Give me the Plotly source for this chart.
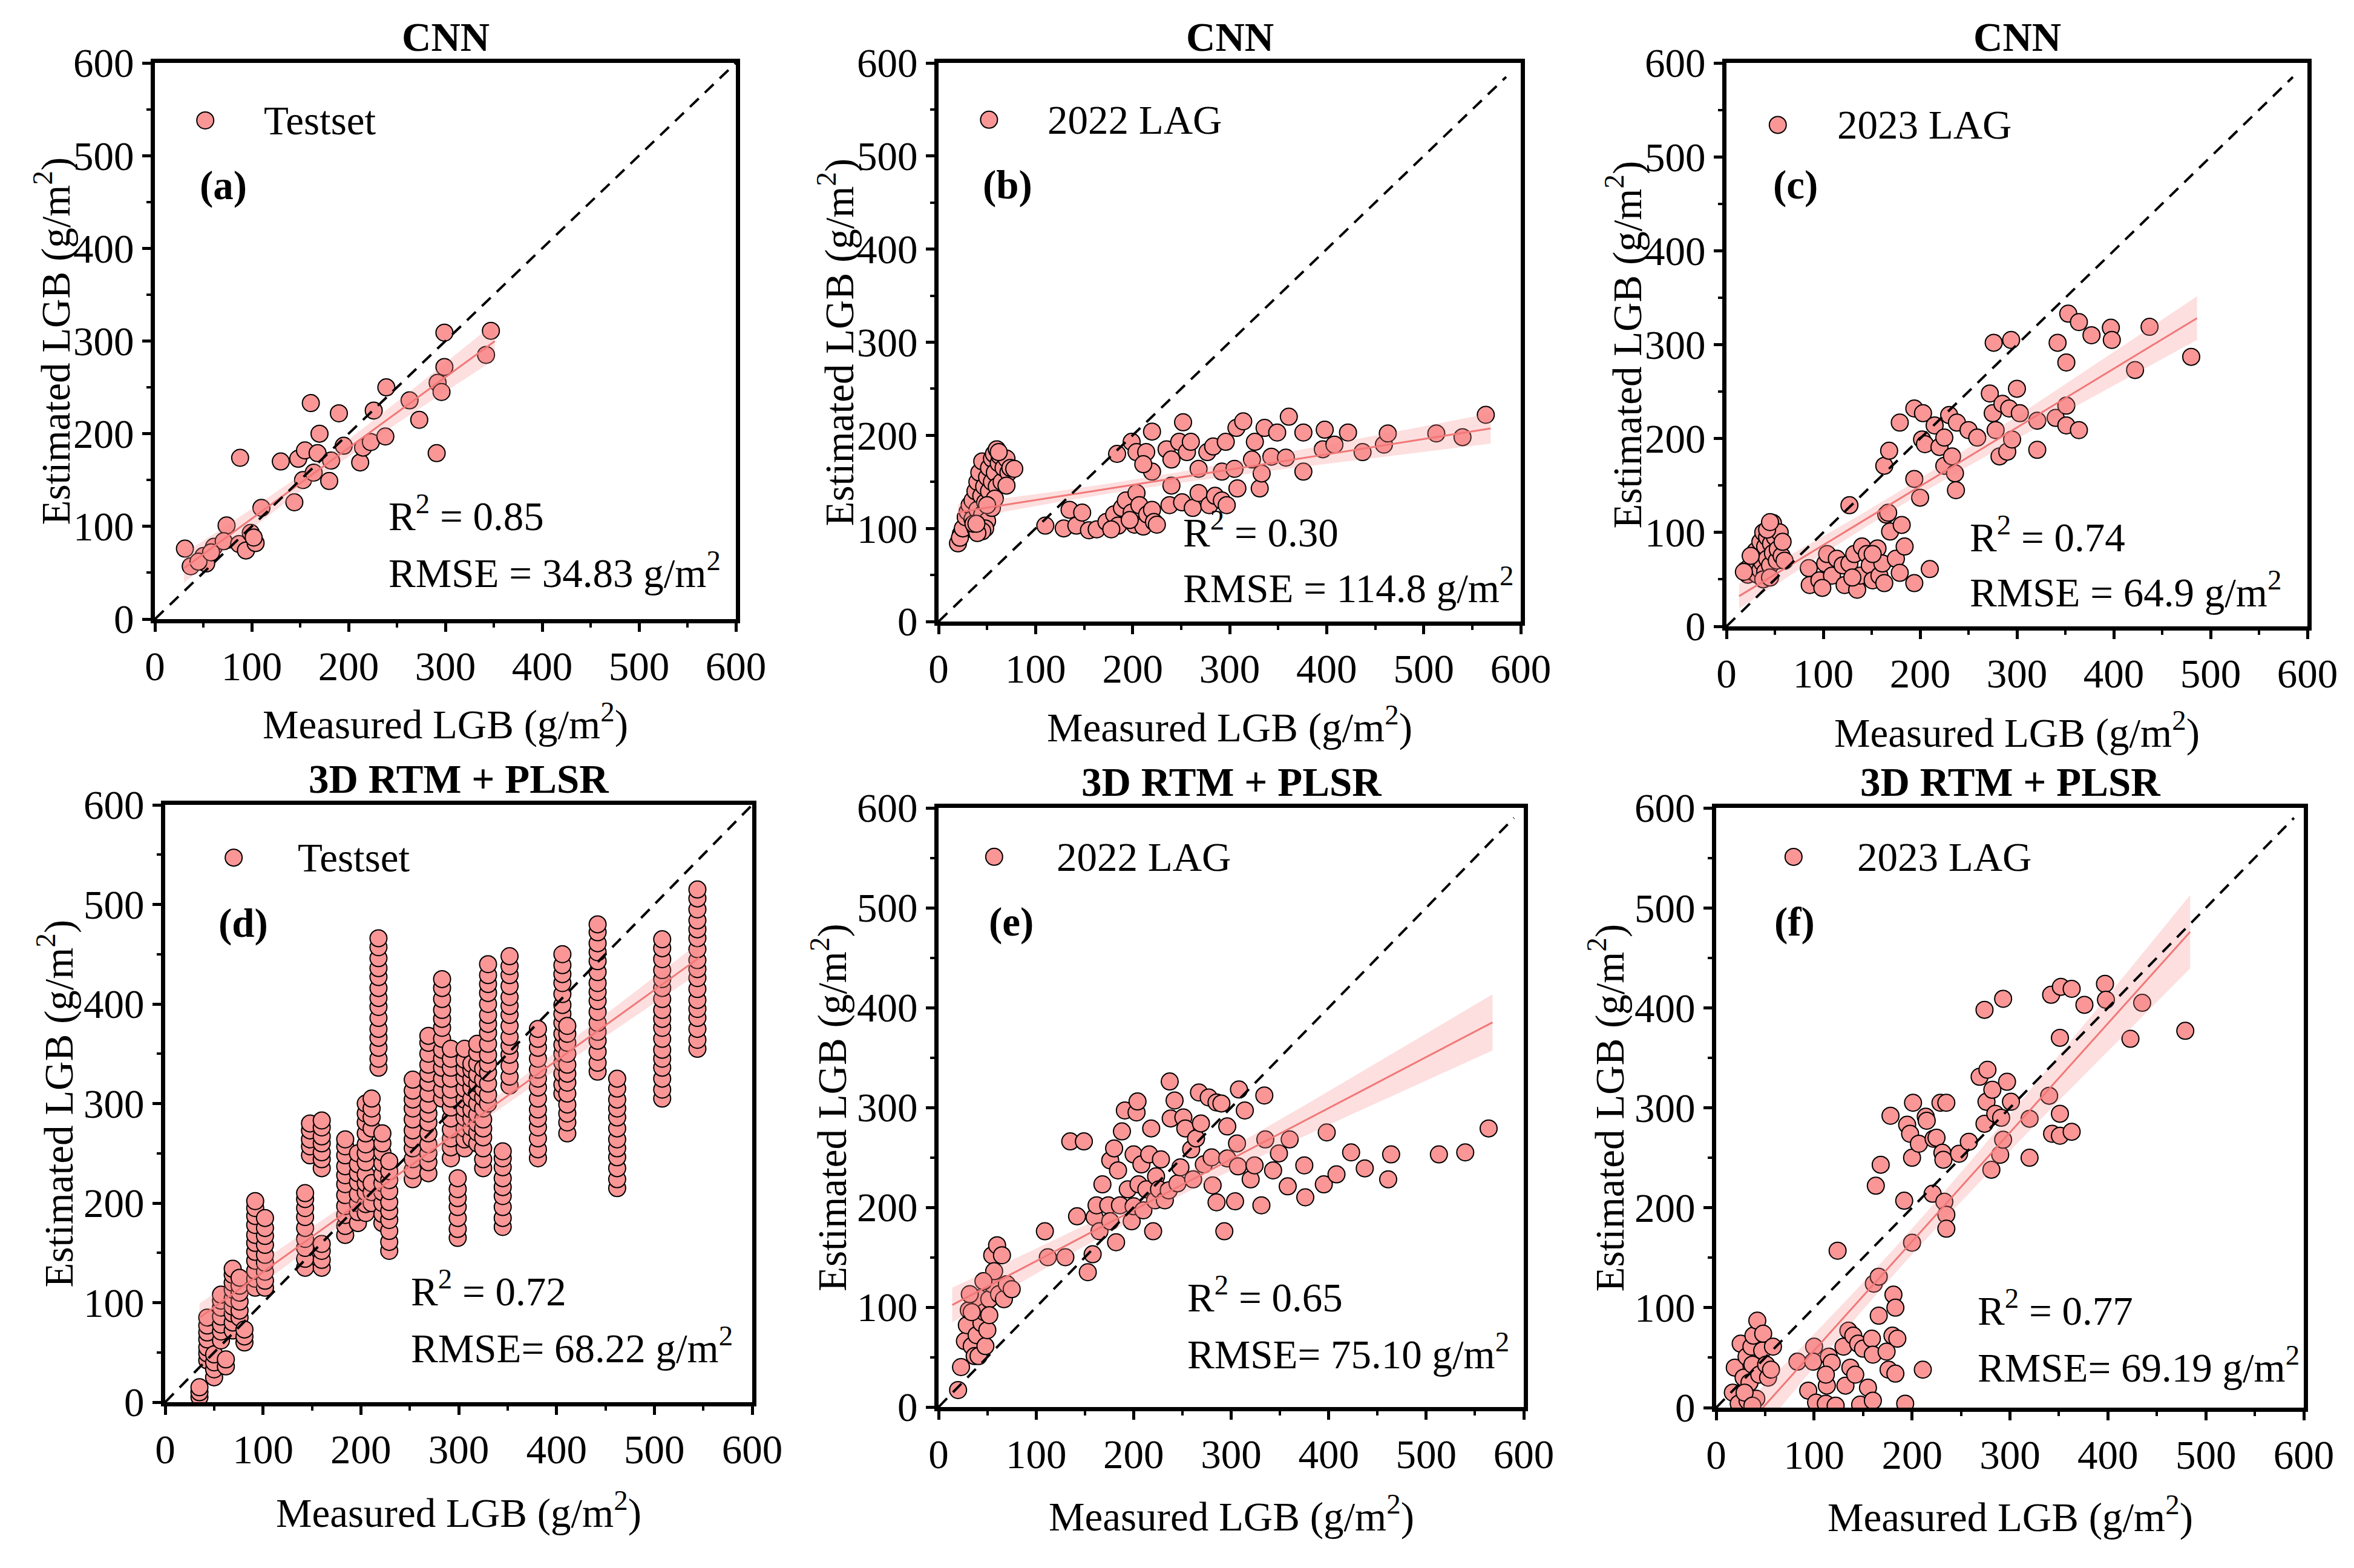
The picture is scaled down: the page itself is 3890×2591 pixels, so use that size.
import numpy as np
import plotly.graph_objects as go

FONT = "Liberation Serif, Times New Roman, serif"
FS = 67
FILL = "rgb(250,150,150)"
FITLINE = "rgb(242,120,120)"
BAND = "rgba(248,140,140,0.28)"

# ---------------- data ----------------
# (a) CNN - Testset
a_meas = [31, 37, 50, 53, 61, 74, 71, 87, 88, 94, 99, 104, 110, 130, 144, 148, 153, 155, 161, 164,
          168, 170, 180, 182, 190, 195, 212, 215, 223, 226, 238, 239, 263, 273, 291, 292, 296, 299, 299, 342,
          347, 45, 58, 102]
a_est = [76, 57, 68, 60, 78, 101, 84, 81, 174, 74, 93, 82, 120, 170, 126, 173, 150, 182, 233, 158,
         179, 200, 149, 171, 222, 187, 169, 185, 191, 225, 197, 250, 236, 215, 179, 255, 245, 272, 309, 285,
         311, 62, 72, 88]

# (b) CNN - 2022 LAG
b_meas = [20, 23, 26, 22, 25, 28, 30, 32, 35, 35, 38, 38, 40, 40, 42, 42, 44, 45, 45, 47,
          48, 50, 50, 52, 52, 55, 55, 57, 58, 60, 60, 62, 63, 65, 67, 70, 72, 74, 48, 45,
          40, 36, 55, 58, 50, 39, 78, 70, 62,
          110, 129, 135, 142, 148, 155, 163, 173, 181, 185, 189, 193, 199, 202, 204, 207, 211, 215, 220, 222,
          225, 178, 197,
          184, 199, 204, 214, 220, 220, 211, 235, 240, 240, 248, 252, 256, 260, 268, 277, 283, 292, 296, 305,
          307, 314, 308, 238, 251, 262, 268, 279, 285, 292, 297, 323, 326, 331, 333, 336, 343, 349, 358, 361,
          376, 376, 396, 398, 408, 422, 437, 459, 463, 513, 540, 564]
b_est = [84, 94, 99, 90, 100, 112, 118, 125, 130, 110, 140, 100, 150, 120, 105, 160, 135, 172, 115, 145,
         128, 155, 108, 165, 140, 175, 150, 180, 160, 185, 145, 170, 178, 150, 165, 175, 160, 165, 100, 97,
         95, 105, 122, 132, 125, 105, 164, 146, 182,
         103, 100, 120, 103, 117, 98, 99, 107, 115, 103, 122, 130, 117, 104, 138, 125, 102, 115, 120, 107,
         104, 99, 109,
         180, 193, 182, 182, 204, 161, 169, 185, 174, 146, 193, 214, 182, 193, 164, 182, 188, 161, 193, 164,
         208, 215, 143, 125, 128, 122, 138, 125, 135, 130, 125, 174, 193, 143, 159, 208, 177, 203, 176, 220,
         203, 161, 185, 206, 190, 203, 182, 190, 202, 202, 198, 222]

# (c) CNN - 2023 LAG
c_meas = [20, 22, 25, 27, 28, 30, 30, 32, 33, 35, 35, 37, 38, 40, 40, 42, 42, 44, 45, 46,
          48, 48, 50, 52, 53, 55, 57, 58, 60, 25, 18, 38, 45, 42, 45,
          85, 86, 96, 102, 104, 109, 114, 120, 122, 127, 132, 135, 138, 140, 145, 148, 151, 156, 158, 161,
          163, 165, 169, 175, 179, 181, 184, 194, 210, 167, 151, 130, 99,
          127, 163, 168, 179, 194, 194, 200, 202, 203, 205, 215, 220, 225, 225, 230, 233, 236, 237, 238, 250,
          259, 272, 275, 276, 278, 282, 285, 290, 292, 294, 295, 300, 303, 321, 321, 340, 342, 351, 351, 351,
          353, 364, 364, 377, 397, 398, 422, 437, 480]
c_est = [60, 55, 65, 58, 70, 62, 80, 55, 75, 90, 60, 68, 100, 85, 58, 95, 72, 105, 65, 88,
         110, 78, 95, 70, 82, 100, 75, 90, 70, 75, 58, 50, 52, 103, 111,
         62, 44, 49, 67, 77, 54, 72, 65, 44, 67, 77, 39, 54, 85, 77, 65, 49, 83, 54, 67,
         46, 119, 101, 72, 57, 108, 85, 46, 61, 121, 77, 52, 41,
         129, 171, 187, 217, 157, 232, 137, 199, 227, 194, 214, 191, 201, 171, 225, 181, 163, 145, 217, 209,
         201, 248, 227, 302, 209, 181, 237, 186, 232, 305, 199, 253, 227, 188, 219, 222, 302, 214, 235, 281,
         333, 209, 324, 310, 318, 305, 273, 319, 287]

# (d) 3D RTM + PLSR - Testset: each measured value has a column of estimates
d_stack_meas = [35, 43, 50, 57, 62, 69, 76, 81, 92, 102,
                143, 148, 160, 184, 197, 205, 211, 218, 222, 229,
                253, 269, 283, 292, 299, 306, 313, 319, 325, 330,
                345, 352, 381, 406, 411, 442, 462, 508, 544]
d_stack_est = [
    [5, 10, 15],
    [42, 49, 55, 63, 70, 77, 85],
    [25, 33, 40, 48],
    [62, 71, 78, 86, 95, 102, 108],
    [36, 43],
    [72, 80, 89, 96, 104, 113, 120, 128, 134],
    [85, 92, 101, 110, 117, 125],
    [60, 66, 73],
    [115, 124, 132, 142, 151, 160, 168, 178, 187, 195, 202],
    [115, 122, 131, 140, 148, 158, 167, 175, 185],
    [135, 144, 155, 164, 175, 186, 195, 204, 210],
    [248, 257, 264, 273, 280],
    [135, 143, 152, 159, 235, 244, 251, 260, 267, 276, 283],
    [168, 177, 188, 197, 208, 219, 228, 237, 248, 257, 264],
    [180, 191, 200, 209, 221, 230, 239, 250],
    [190, 199, 211, 220, 229, 241, 250, 259, 270, 281, 290, 300],
    [200, 211, 220, 275, 286, 295, 305],
    [336, 345, 356, 366, 375, 386, 397, 406, 416, 427, 436, 446, 457, 466],
    [180, 189, 200, 211, 220, 229, 240, 251, 260, 270],
    [152, 161, 172, 183, 192, 201, 212, 223, 232, 242],
    [224, 233, 244, 255, 264, 273, 284, 295, 304, 313, 324],
    [230, 241, 250, 259, 270, 281, 290, 299, 310, 321, 330, 339, 350, 361, 368],
    [305, 314, 325, 336, 345, 354, 365, 376, 385, 394, 405, 416, 425],
    [245, 256, 265, 274, 285, 296, 305, 314, 325, 336, 345, 355],
    [165, 174, 185, 196, 205, 214, 225],
    [255, 264, 275, 286, 295, 304, 315, 326, 335, 344, 355],
    [265, 276, 285, 294, 305, 316, 325, 334, 340],
    [260, 271, 280, 289, 300, 311, 320, 329, 340, 351, 360],
    [235, 244, 255, 266, 275, 284, 295, 306, 315, 324, 335],
    [300, 309, 320, 331, 340, 349, 360, 371, 380, 389, 400, 411, 420, 429, 440],
    [176, 185, 196, 207, 216, 225, 236, 245, 252],
    [318, 327, 338, 349, 358, 367, 378, 389, 398, 407, 418, 429, 438, 448],
    [245, 254, 265, 276, 285, 294, 305, 316, 325, 334, 345, 356, 365, 375],
    [310, 319, 330, 341, 350, 359, 370, 381, 390, 399, 410, 421, 430, 439, 450],
    [270, 281, 290, 299, 310, 321, 330, 339, 350, 361, 370, 378],
    [332, 341, 352, 363, 372, 381, 392, 403, 412, 421, 432, 443, 452, 461, 472, 480],
    [215, 224, 235, 246, 255, 264, 275, 286, 295, 304, 315, 325],
    [305, 314, 325, 336, 345, 354, 365, 376, 385, 394, 405, 416, 425, 434, 445, 456, 465],
    [355, 364, 375, 386, 395, 404, 415, 426, 435, 444, 455, 466, 475, 484, 495, 506, 515],
]
d_meas = [m for m, col in zip(d_stack_meas, d_stack_est) for _ in col]
d_est = [v for col in d_stack_est for v in col]

# (e) 3D RTM + PLSR - 2022 LAG
e_meas = [20, 23, 27, 29, 31, 34, 37, 39, 41, 42, 44, 47, 48, 52, 55, 55, 57, 60, 62, 65,
          67, 70, 75, 50, 32, 34, 46, 52,
          109, 112, 130, 135, 142, 149, 153, 158, 160, 162, 165, 168, 174, 176, 176, 180, 182, 184, 186, 188,
          191, 194, 198, 200, 200, 203, 204, 205, 208, 210, 213, 216, 218, 220, 222, 223, 226, 228, 232, 236,
          237, 238, 242, 245, 248, 251, 253, 259, 261, 264, 267, 269, 272, 277, 280, 281, 285, 285, 290, 293,
          296, 296, 304, 306, 307, 308, 314, 320, 324, 331, 334, 335, 343, 349, 358, 360, 375, 376, 395, 398,
          408, 423, 437, 461, 464, 513, 540, 564]
e_est = [17, 40, 66, 82, 97, 61, 51, 72, 51, 109, 84, 95, 61, 108, 123, 152, 136, 162, 113, 152,
         108, 123, 118, 77, 113, 95, 126, 92,
         176, 150, 150, 266, 191, 266, 135, 153, 190, 202, 176, 223, 202, 247, 186, 259, 165, 237, 202, 276,
         297, 218, 186, 201, 253, 295, 306, 223, 243, 197, 218, 253, 279, 176, 207, 231, 218, 248, 207, 217,
         326, 289, 307, 224, 240, 290, 279, 258, 228, 269, 315, 284, 243, 310, 250, 222, 205, 305, 304, 176,
         281, 249, 206, 264, 241, 318, 297, 228, 242, 202, 312, 268, 237, 254, 221, 268, 242, 210, 223, 275,
         233, 255, 239, 228, 253, 253, 255, 279]

# (f) 3D RTM + PLSR - 2023 LAG
f_meas = [17, 19, 23, 25, 28, 31, 32, 34, 36, 37, 38, 41, 42, 44, 47, 48, 51, 53, 56, 58, 29, 37,
          83, 94, 100, 99, 102, 112, 113, 115, 118, 112, 122, 130, 132, 135, 137, 140, 142, 145, 147, 150,
          155, 159, 160, 160, 161, 166, 166, 174, 176, 180, 181, 183, 183, 185, 193, 211, 124,
          163, 168, 178, 192, 195, 198, 200, 200, 201, 207, 214, 215, 221, 222, 225, 229, 231, 232, 233, 235,
          235, 235, 248, 258, 269, 274, 274, 276, 277, 281, 282, 285, 290, 291, 293, 293, 297, 301, 320, 320,
          340, 342, 343, 351, 351, 351, 352, 363, 363, 376, 397, 398, 423, 435, 479]
f_est = [15, 40, 4, 64, 30, 51, 7, 25, 61, 43, 72, 9, 87, 33, 57, 74, 43, 30, 38, 61, 15, 2,
         46, 17, 61, 46, 5, 4, 22, 51, 45, 33, 2, 61, 22, 77, 40, 72, 33, 64, 3, 59,
         20, 69, 53, 7, 124, 131, 92, 56, 38, 72, 113, 34, 100, 69, 4, 38, 157,
         222, 243, 292, 207, 283, 274, 250, 165, 305, 264, 291, 287, 214, 269, 270, 305, 255, 248, 206, 305,
         193, 179, 254, 266, 331, 398, 284, 306, 338, 238, 318, 294, 253, 290, 409, 268, 326, 306, 289, 250,
         312, 413, 274, 370, 294, 272, 421, 419, 276, 403, 424, 408, 369, 405, 377]

# fitted regression lines as drawn in the figure (slope, intercept, x-extent)
fit_slope = [0.763, 0.164, 0.626, 0.708, 0.511, 1.091]
fit_intercept = [32, 114, 24, 60, 95, -52]
fit_xmin = [30, 20, 13, 35, 14, 17]
fit_xmax = [351, 569, 486, 546, 568, 484]

panel_titles = ["CNN", "CNN", "CNN", "3D RTM + PLSR", "3D RTM + PLSR", "3D RTM + PLSR"]
series_names = ["Testset", "2022 LAG", "2023 LAG", "Testset", "2022 LAG", "2023 LAG"]
panel_letters = ["(a)", "(b)", "(c)", "(d)", "(e)", "(f)"]
r2_labels = ["0.85", "0.30", "0.74", "0.72", "0.65", "0.77"]
rmse_labels = ["RMSE = 34.83", "RMSE = 114.8", "RMSE = 64.9", "RMSE= 68.22", "RMSE= 75.10", "RMSE= 69.19"]
tick_values = [0, 100, 200, 300, 400, 500, 600]

measured = [a_meas, b_meas, c_meas, d_meas, e_meas, f_meas]
estimated = [a_est, b_est, c_est, d_est, e_est, f_est]

# ---------------- layout geometry (pixels of the 3890x2591 page) ----------------
W, H = 3890, 2591
boxes = [(256, 1216, 104, 1023), (1551, 2513, 104, 1027), (2853, 3813, 104, 1035),
         (273, 1243, 1330, 2317), (1551, 2518, 1335, 2325), (2836, 3807, 1335, 2326)]
diag_end = [600, 585, 585, 600, 590, 590]
letter_pos = [(45, 468), (44, 469), (47, 470), (53, 481), (50, 486), (58, 486)]
stat_pos = [(240, 114, 53), (251, 99, 39), (250, 98, 39), (250, 114, 57), (254, 113, 56), (266, 100, 43)]
legend_marker = [(52, 538), (52, 539), (53, 534), (70, 547), (57, 551), (79, 551)]
legend_text_x = [111, 111, 113, 134, 120, 143]
ytitle_shift = [-169, -169, -169, -181, -181, -181]
xtitle_shift = [-169, -171, -171, -178, -176, -176]


def fit_band(x, y, slope, intercept, xmin, xmax):
    x = np.asarray(x, float)
    y = np.asarray(y, float)
    xs = np.linspace(xmin, xmax, 120)
    yh = intercept + slope * xs
    res = y - (intercept + slope * x)
    n = len(x)
    s = np.sqrt((res ** 2).sum() / (n - 2))
    se = s * np.sqrt(1.0 / n + (xs - x.mean()) ** 2 / ((x - x.mean()) ** 2).sum())
    return xs, yh, yh + 1.96 * se, yh - 1.96 * se


fig = go.Figure()
annotations = []
shapes = []
layout = dict(width=W, height=H, margin=dict(l=0, r=0, t=0, b=0, autoexpand=False),
              paper_bgcolor="white", plot_bgcolor="white", showlegend=False)
txt_font = dict(family=FONT, size=FS, color="black")

for i in range(6):
    k = i + 1
    xa = "x" if k == 1 else f"x{k}"
    ya = "y" if k == 1 else f"y{k}"
    x0, x1, y0, y1 = boxes[i]
    axis_common = dict(range=[0, 600], tickvals=tick_values, ticks="outside", ticklen=14, tickwidth=5,
                       tickcolor="black", showline=True, linewidth=7, linecolor="black", mirror=True,
                       showgrid=False, zeroline=False, automargin=False,
                       tickfont=dict(family=FONT, size=FS, color="black"),
                       minor=dict(dtick=50, ticks="outside", ticklen=7, tickwidth=4, tickcolor="black"))
    layout["xaxis" if k == 1 else f"xaxis{k}"] = dict(domain=[x0 / W, x1 / W], anchor=ya, **axis_common)
    layout["yaxis" if k == 1 else f"yaxis{k}"] = dict(domain=[1 - y1 / H, 1 - y0 / H], anchor=xa, **axis_common)

    xm, ym = measured[i], estimated[i]
    fig.add_trace(go.Scatter(x=xm, y=ym, mode="markers", name=series_names[i], xaxis=xa, yaxis=ya,
                             marker=dict(size=28, color=FILL, line=dict(color="black", width=2))))
    xs, yh, up, lo = fit_band(xm, ym, fit_slope[i], fit_intercept[i], fit_xmin[i], fit_xmax[i])
    fig.add_trace(go.Scatter(x=np.concatenate([xs, xs[::-1]]), y=np.concatenate([up, lo[::-1]]),
                             fill="toself", fillcolor=BAND, line=dict(width=0), mode="lines",
                             xaxis=xa, yaxis=ya, hoverinfo="skip"))
    fig.add_trace(go.Scatter(x=xs, y=yh, mode="lines", line=dict(color=FITLINE, width=3),
                             xaxis=xa, yaxis=ya))
    fig.add_trace(go.Scatter(x=[0, diag_end[i]], y=[0, diag_end[i]], mode="lines",
                             line=dict(color="black", width=4, dash="20px,14px"),
                             xaxis=xa, yaxis=ya))

    # legend key (symbol + label)
    lx, ly = legend_marker[i]
    shapes.append(dict(type="circle", xref=xa, yref=ya, xsizemode="pixel", ysizemode="pixel",
                       xanchor=lx, yanchor=ly, x0=-14, x1=14, y0=-14, y1=14,
                       fillcolor=FILL, line=dict(color="black", width=2)))
    annotations.append(dict(text=series_names[i], xref=xa, yref=ya, x=legend_text_x[i], y=ly,
                            xanchor="left", yanchor="middle", showarrow=False, font=txt_font))

    xd = f"{xa} domain"
    yd = f"{ya} domain"
    annotations.append(dict(text=f"<b>{panel_titles[i]}</b>", xref=xd, yref=yd, x=0.5, y=1,
                            xanchor="center", yanchor="bottom", yshift=4, showarrow=False, font=txt_font))
    annotations.append(dict(text="Measured LGB (g/m<sup>2</sup>)", xref=xd, yref=yd, x=0.5, y=0,
                            xanchor="center", yanchor="middle", yshift=xtitle_shift[i],
                            showarrow=False, font=txt_font))
    annotations.append(dict(text="Estimated LGB (g/m<sup>2</sup>)", xref=xd, yref=yd, x=0, y=0.5,
                            xanchor="center", yanchor="middle", xshift=ytitle_shift[i], textangle=-90,
                            showarrow=False, font=txt_font))
    annotations.append(dict(text=f"<b>{panel_letters[i]}</b>", xref=xa, yref=ya,
                            x=letter_pos[i][0], y=letter_pos[i][1], xanchor="left", yanchor="middle",
                            showarrow=False, font=txt_font))
    sx, sy1, sy2 = stat_pos[i]
    annotations.append(dict(text=f"R<sup>2</sup> = {r2_labels[i]}", xref=xa, yref=ya, x=sx, y=sy1,
                            xanchor="left", yanchor="middle", showarrow=False, font=txt_font))
    annotations.append(dict(text=f"{rmse_labels[i]} g/m<sup>2</sup>", xref=xa, yref=ya, x=sx, y=sy2,
                            xanchor="left", yanchor="middle", showarrow=False, font=txt_font))

layout["annotations"] = annotations
layout["shapes"] = shapes
fig.update_layout(**layout)
fig.write_html("out.html", config={"displayModeBar": False},
               post_script="document.body.style.margin='0';document.body.style.overflow='hidden';")
